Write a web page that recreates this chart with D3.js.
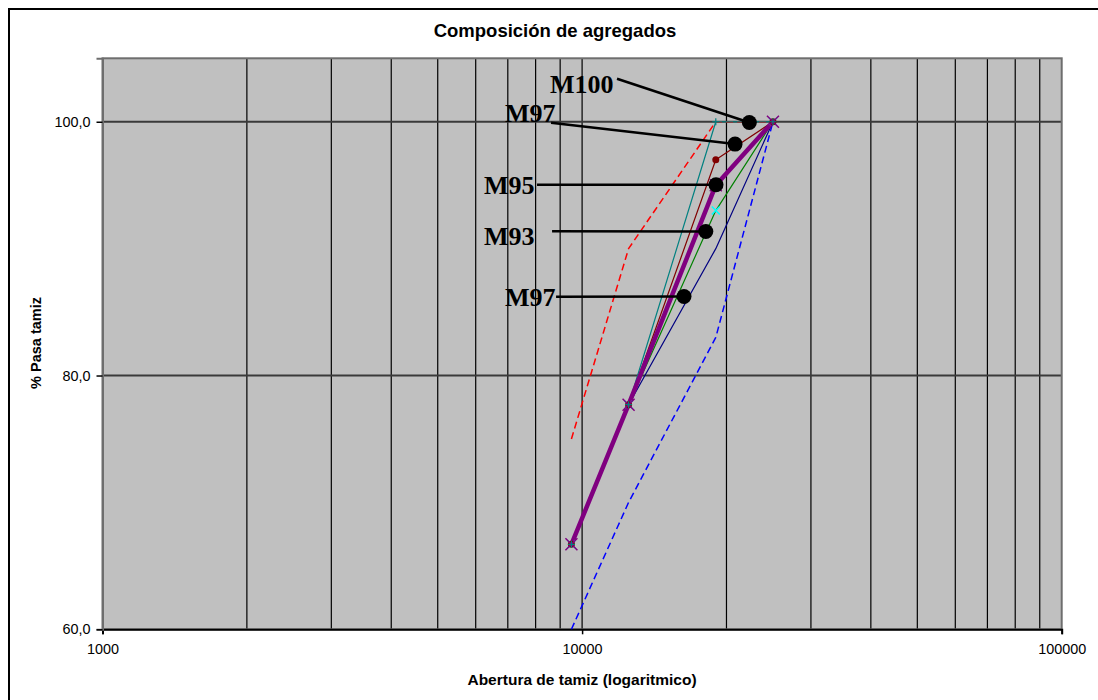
<!DOCTYPE html>
<html>
<head>
<meta charset="utf-8">
<script src="https://cdn.jsdelivr.net/npm/d3@7"></script>
<style>
  html, body { margin: 0; padding: 0; background: #ffffff; }
  svg { display: block; }
</style>
</head>
<body>
<svg id="chart" width="1098" height="700"></svg>
<script>
// Sieve openings (µm) and the percentage passing for each gradation
const sieveSizes = [9500, 12500, 19000, 25000];

const mixM90  = [66.7, 77.7, 90, 100];
const mixM93  = [66.7, 77.7, 93, 100];
const mixM95  = [66.7, 77.7, 95, 100];
const mixM97  = [66.7, 77.7, 97, 100];
const mixM100 = [66.7, 77.7, 100, 100];

// Specification band
const lowerLimit = [75, 90, 100, 100];
const upperLimit = [60, 70, 83, 100];

// Axis ticks
const xTicks = [1000, 10000, 100000];
const yTicks = [60, 80, 100];

// Callouts: label, dot position [size, %], leader start [size, %], text origin [size, %]
const callouts = [
  { label: "M100", dot: [22320, 99.94], from: [11825, 103.39], text: [8573, 102.29] },
  { label: "M97",  dot: [20840, 98.24], from: [8615, 99.92],   text: [6907, 100.0] },
  { label: "M95",  dot: [19020, 95.03], from: [8054, 95.03],   text: [6245, 94.32] },
  { label: "M93",  dot: [18110, 91.35], from: [8657, 91.37],   text: [6245, 90.30] },
  { label: "M97",  dot: [16310, 86.23], from: [8825, 86.20],   text: [6907, 85.49] }
];

const svg = d3.select("#chart");
const plot = { left: 102.5, top: 58.3, right: 1061.7, bottom: 629.3 };

const x = d3.scaleLog().domain([1000, 100000]).range([plot.left, plot.right]);
const y = d3.scaleLinear().domain([60, 105]).range([plot.bottom, plot.top]);

// Outer chart frame (continues past the window)
svg.append("rect")
  .attr("x", 9).attr("y", 9).attr("width", 1300).attr("height", 900)
  .attr("fill", "#ffffff").attr("stroke", "#000000").attr("stroke-width", 2);

// Plot background
svg.append("rect")
  .attr("x", plot.left).attr("y", plot.top)
  .attr("width", plot.right - plot.left).attr("height", plot.bottom - plot.top)
  .attr("fill", "#c0c0c0");

// Vertical log grid (2..9 per decade plus decades)
const gridX = [];
for (let d = 1000; d < 100000; d *= 10) {
  for (let k = 2; k <= 10; k++) gridX.push(d * k);
}
svg.append("g").selectAll("line").data(gridX.filter(v => v < 100000)).join("line")
  .attr("x1", d => x(d)).attr("x2", d => x(d))
  .attr("y1", plot.top).attr("y2", plot.bottom)
  .attr("stroke", "#000000").attr("stroke-width", 1.2);

// Horizontal grid
svg.append("g").selectAll("line").data(yTicks.filter(v => v > 60)).join("line")
  .attr("x1", plot.left).attr("x2", plot.right)
  .attr("y1", d => y(d)).attr("y2", d => y(d))
  .attr("stroke", "#3a3a3a").attr("stroke-width", 2);

// Plot border
svg.append("rect")
  .attr("x", plot.left).attr("y", plot.top)
  .attr("width", plot.right - plot.left).attr("height", plot.bottom - plot.top)
  .attr("fill", "none").attr("stroke", "#6e6e6e").attr("stroke-width", 2);

// Axes
const xAxis = d3.axisBottom(x).tickValues(xTicks).tickFormat(d3.format("d")).tickSize(5).tickPadding(9);
const yAxis = d3.axisLeft(y).tickValues(yTicks).tickFormat(d => d.toFixed(1).replace(".", ",")).tickSize(6).tickPadding(6);

const gx = svg.append("g").attr("transform", `translate(0,${plot.bottom})`).call(xAxis);
const gy = svg.append("g").attr("transform", `translate(${plot.left},0)`).call(yAxis);
[gx, gy].forEach(g => {
  g.select(".domain").attr("stroke", "#000000").attr("stroke-width", 2);
  g.selectAll(".tick line").attr("stroke", "#000000").attr("stroke-width", 1.5);
  g.selectAll(".tick text")
    .attr("font-family", "'Liberation Sans', Arial, sans-serif")
    .attr("font-size", "14.4px").attr("fill", "#000000");
});
gy.select(".domain").attr("stroke", "#6e6e6e");

// Titles
svg.append("text")
  .attr("x", 555).attr("y", 37).attr("text-anchor", "middle")
  .attr("font-family", "'Liberation Sans', Arial, sans-serif")
  .attr("font-weight", "bold").attr("font-size", "18.5px")
  .text("Composición de agregados");

svg.append("text")
  .attr("x", 582).attr("y", 685).attr("text-anchor", "middle")
  .attr("font-family", "'Liberation Sans', Arial, sans-serif")
  .attr("font-weight", "bold").attr("font-size", "15.5px")
  .text("Abertura de tamiz (logaritmico)");

svg.append("text")
  .attr("transform", "translate(41,343) rotate(-90)").attr("text-anchor", "middle")
  .attr("font-family", "'Liberation Sans', Arial, sans-serif")
  .attr("font-weight", "bold").attr("font-size", "14.5px")
  .text("% Pasa tamiz");

// Series
const line = d3.line().x(d => x(d[0])).y(d => y(d[1]));
const pts = vals => sieveSizes.map((s, i) => [s, vals[i]]);

const series = [
  { vals: upperLimit, color: "#0000ff", width: 1.5, dash: "7,4" },
  { vals: lowerLimit, color: "#ff0000", width: 1.5, dash: "7,4" },
  { vals: mixM90,  color: "#000080", width: 1.2 },
  { vals: mixM93,  color: "#008000", width: 1.2, marker: "x", mcolor: "#00ffff" },
  { vals: mixM100, color: "#008080", width: 1.2, marker: "+", mcolor: "#008080" },
  { vals: mixM97,  color: "#800000", width: 1.2, marker: "o", mcolor: "#800000" },
  { vals: mixM95,  color: "#800080", width: 4.5, marker: "X", mcolor: "#800080" }
];

const gLines = svg.append("g");
series.forEach(s => {
  gLines.append("path")
    .datum(pts(s.vals))
    .attr("d", line)
    .attr("fill", "none")
    .attr("stroke", s.color)
    .attr("stroke-width", s.width)
    .attr("stroke-dasharray", s.dash || null)
    .attr("stroke-linejoin", "round");
});

// Markers (drawn after all lines)
const gMarks = svg.append("g");
const markerOrder = ["x", "o", "X", "+"];
markerOrder.forEach(kind => {
  series.filter(s => s.marker === kind).forEach(s => {
    pts(s.vals).forEach(p => {
      const cx = x(p[0]), cy = y(p[1]);
      if (kind === "o") {
        gMarks.append("circle").attr("cx", cx).attr("cy", cy).attr("r", 3.5).attr("fill", s.mcolor);
      } else if (kind === "+") {
        const r = 3.5;
        gMarks.append("path").attr("d", `M${cx - r},${cy}H${cx + r}M${cx},${cy - r}V${cy + r}`)
          .attr("stroke", s.mcolor).attr("stroke-width", 1.2);
      } else {
        const r = kind === "X" ? 6 : 4;
        gMarks.append("path").attr("d", `M${cx - r},${cy - r}L${cx + r},${cy + r}M${cx - r},${cy + r}L${cx + r},${cy - r}`)
          .attr("stroke", s.mcolor).attr("stroke-width", 1.5);
      }
    });
  });
});

// Callouts with leader lines
const gCall = svg.append("g");
callouts.forEach(c => {
  gCall.append("line")
    .attr("x1", x(c.from[0])).attr("y1", y(c.from[1]))
    .attr("x2", x(c.dot[0])).attr("y2", y(c.dot[1]))
    .attr("stroke", "#000000").attr("stroke-width", 2.5);
  gCall.append("circle")
    .attr("cx", x(c.dot[0])).attr("cy", y(c.dot[1])).attr("r", 7.5)
    .attr("fill", "#000000");
  gCall.append("text")
    .attr("x", x(c.text[0])).attr("y", y(c.text[1]))
    .attr("font-family", "'Liberation Serif', 'Times New Roman', serif")
    .attr("font-weight", "bold").attr("font-size", "26px")
    .attr("fill", "#000000")
    .text(c.label);
});
</script>
</body>
</html>
